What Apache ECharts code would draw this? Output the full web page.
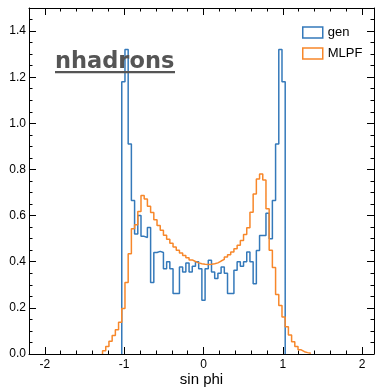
<!DOCTYPE html>
<html><head><meta charset="utf-8">
<script src="https://cdn.jsdelivr.net/npm/echarts@6/dist/echarts.min.js"></script>
<style>html,body{margin:0;padding:0;background:#fff}#c{width:375px;height:388px}</style>
</head><body><div id="c"></div>
<script>
// Histogram binning: 99 equal bins from -2 to 2
const binLow = -2;
const binHigh = 2;
const binCount = 99;

const seriesNames = ['gen', 'MLPF'];

// gen: first non-empty bin index and bin contents
const genFirstBin = 24;
const genValues = [
  1.18, 1.32, 0.91, 0.665, 0.52, 0.60, 0.51, 0.505, 0.548, 0.31,
  0.44, 0.445, 0.44, 0.37, 0.40, 0.37, 0.262, 0.262, 0.377, 0.356,
  0.395, 0.356, 0.38, 0.40, 0.37, 0.233, 0.37, 0.406, 0.356, 0.327,
  0.35, 0.377, 0.35, 0.262, 0.262, 0.363, 0.40, 0.38, 0.40, 0.442,
  0.40, 0.305, 0.449, 0.514, 0.514, 0.61, 0.50, 0.665, 0.91, 1.32,
  1.18
];

// MLPF: first non-empty bin index and bin contents
const mlpfFirstBin = 18;
const mlpfValues = [
  0.014, 0.033, 0.055, 0.08, 0.105, 0.138, 0.197, 0.31, 0.435, 0.543,
  0.56, 0.618, 0.687, 0.672, 0.64, 0.613, 0.582, 0.557, 0.536, 0.515,
  0.497, 0.48, 0.464, 0.45, 0.438, 0.427, 0.417, 0.408, 0.401, 0.395,
  0.391, 0.389, 0.388, 0.389, 0.391, 0.395, 0.403, 0.41, 0.42, 0.43,
  0.442, 0.456, 0.471, 0.492, 0.518, 0.547, 0.615, 0.694, 0.759, 0.78,
  0.754, 0.63, 0.45, 0.375, 0.258, 0.21, 0.16, 0.118, 0.082, 0.053,
  0.032, 0.018, 0.01, 0.006, 0.003
];

const xTickLabels = [-2, -1, 0, 1, 2];
const yTickLabels = ['0.0', '0.2', '0.4', '0.6', '0.8', '1.0', '1.2', '1.4'];

const titleText = 'nhadrons';
const xAxisTitle = 'sin phi';

function stepPoints(first, vals) {
  const w = (binHigh - binLow) / binCount;
  const pts = [[binLow + first * w, 0]];
  vals.forEach((v, i) => pts.push([binLow + (first + i) * w, v]));
  pts.push([binLow + (first + vals.length) * w, 0]);
  return pts;
}

const FONT = 'Liberation Sans';
const colors = ['#3479ba', '#f7872a'];

function xAxisCfg(pos, labels) {
  return {
    type: 'value', position: pos, min: -2.2, max: 2.15, splitNumber: 5,
    axisLine: { show: true, onZero: false, lineStyle: { color: '#000', width: 1 } },
    axisTick: { show: true, inside: true, length: 7, lineStyle: { color: '#000', width: 1 } },
    minorTick: { show: true, splitNumber: 5, length: 3.5, lineStyle: { color: '#000', width: 1 } },
    splitLine: { show: false },
    axisLabel: {
      show: labels, showMinLabel: false, showMaxLabel: false, margin: 5,
      fontFamily: FONT, fontSize: 12, color: '#000',
      formatter: v => (xTickLabels.indexOf(Math.round(v * 1000) / 1000) >= 0 ? String(Math.round(v)) : '')
    },
    name: labels ? xAxisTitle : '', nameLocation: 'middle', nameGap: 18, nameMoveOverlap: false,
    nameTextStyle: { fontFamily: FONT, fontSize: 15, color: '#000' }
  };
}
function yAxisCfg(pos, labels) {
  return {
    type: 'value', position: pos, min: 0, max: 1.5, interval: 0.2,
    axisLine: { show: true, onZero: false, lineStyle: { color: '#000', width: 1 } },
    axisTick: { show: true, inside: true, length: 7, lineStyle: { color: '#000', width: 1 } },
    minorTick: { show: true, splitNumber: 4, length: 3.5, lineStyle: { color: '#000', width: 1 } },
    splitLine: { show: false },
    axisLabel: {
      show: labels, showMaxLabel: false, margin: 3,
      fontFamily: FONT, fontSize: 12, color: '#000',
      formatter: v => { const i = Math.round(v / 0.2); return Math.abs(v - i * 0.2) < 1e-6 && yTickLabels[i] ? yTickLabels[i] : ''; }
    }
  };
}

const chart = echarts.init(document.getElementById('c'), null, { renderer: 'canvas' });
chart.setOption({
  animation: false,
  backgroundColor: '#fff',
  grid: { left: 29, right: 1, top: 8, bottom: 34, containLabel: false, outerBoundsMode: 'none' },
  xAxis: [xAxisCfg('bottom', true), xAxisCfg('top', false)],
  yAxis: [yAxisCfg('left', true), yAxisCfg('right', false)],
  legend: {
    orient: 'vertical', left: 297, top: 21, itemWidth: 20, itemHeight: 11, itemGap: 8,
    icon: 'rect',
    textStyle: { fontFamily: FONT, fontSize: 13, color: '#000' },
    data: seriesNames.map((n, i) => ({
      name: n, icon: 'rect',
      itemStyle: { color: 'rgba(255,255,255,0)', borderColor: colors[i], borderWidth: 1.5 }
    }))
  },
  graphic: [
    { type: 'text', left: 55, top: 51, z: 100,
      style: { text: titleText, font: 'bold 22.5px "DejaVu Sans"', fill: '#555555' } },
    { type: 'rect', z: 100, shape: { x: 55, y: 71, width: 120, height: 2.2 }, style: { fill: '#555555' } }
  ],
  series: [
    { name: seriesNames[0], type: 'line', step: 'end', xAxisIndex: 0, yAxisIndex: 0,
      data: stepPoints(genFirstBin, genValues), showSymbol: false, symbol: 'none',
      lineStyle: { color: colors[0], width: 1.5 }, itemStyle: { color: colors[0] } },
    { name: seriesNames[1], type: 'line', step: 'end', xAxisIndex: 0, yAxisIndex: 0,
      data: stepPoints(mlpfFirstBin, mlpfValues), showSymbol: false, symbol: 'none',
      lineStyle: { color: colors[1], width: 1.5 }, itemStyle: { color: colors[1] } }
  ]
});
</script>
</body></html>
